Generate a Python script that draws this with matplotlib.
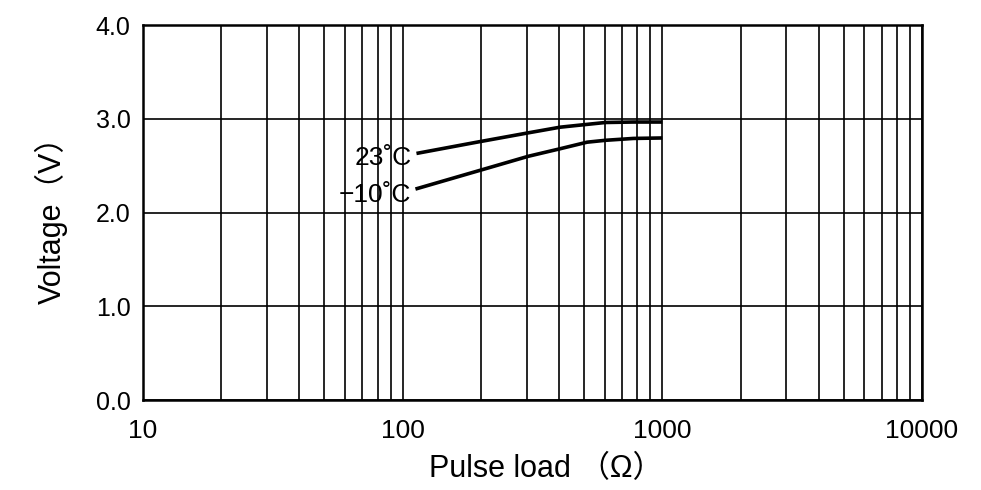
import matplotlib
matplotlib.use("Agg")
import matplotlib.pyplot as plt
from matplotlib.ticker import LogLocator, FixedLocator, NullFormatter

plt.rcParams['font.family'] = ['Liberation Sans', 'Noto Sans CJK JP', 'DejaVu Sans']

# data
load_23 = [113, 193, 305, 404, 513, 603, 773, 1000]
volt_23 = [2.63, 2.75, 2.85, 2.91, 2.94, 2.96, 2.965, 2.965]
load_m10 = [112, 193, 305, 404, 513, 603, 773, 1000]
volt_m10 = [2.25, 2.44, 2.60, 2.68, 2.75, 2.77, 2.79, 2.795]
x_ticks = [10, 100, 1000, 10000]
x_labels = ["10", "100", "1000", "10000"]
y_ticks = [0.0, 1.0, 2.0, 3.0, 4.0]
y_labels = ["0.0", "1.0", "2.0", "3.0", "4.0"]
label_23 = "23˚C"
label_m10 = "−10˚C"

fig = plt.figure(figsize=(9.81, 4.90), dpi=100)
ax = fig.add_axes([143/981, 1-400/490, (922-143)/981, (400-25)/490])
ax.set_xscale('log')
ax.set_xlim(10, 10000)
ax.set_ylim(0, 4.0)

ax.plot(load_23, volt_23, color='black', lw=2.6, solid_capstyle='butt', solid_joinstyle='round')
ax.plot(load_m10, volt_m10, color='black', lw=2.6, solid_capstyle='butt', solid_joinstyle='round')

ax.text(108, 2.58, label_23, ha='right', va='center', fontsize=19)
ax.text(108, 2.19, label_m10, ha='right', va='center', fontsize=19)

ax.xaxis.set_major_locator(FixedLocator(x_ticks))
ax.set_xticklabels(x_labels)
ax.xaxis.set_minor_locator(LogLocator(base=10, subs=range(2, 10)))
ax.xaxis.set_minor_formatter(NullFormatter())
ax.set_yticks(y_ticks)
ax.set_yticklabels(y_labels)

ax.grid(True, which='both', axis='x', color='black', lw=1.2)
ax.grid(True, which='major', axis='y', color='black', lw=1.2)
ax.tick_params(which='both', length=0)
ax.tick_params(axis='x', pad=14, labelsize=19)
ax.tick_params(axis='y', pad=9, labelsize=18)
for s in ax.spines.values():
    s.set_linewidth(1.8)

ax.set_xlabel("Pulse load （Ω）", fontsize=22, labelpad=7)
ax.xaxis.set_label_coords((546 - 143) / 779, -0.145)
ax.set_ylabel("Voltage（V）", fontsize=22, labelpad=20)

fig.savefig("out.png", dpi=100)
